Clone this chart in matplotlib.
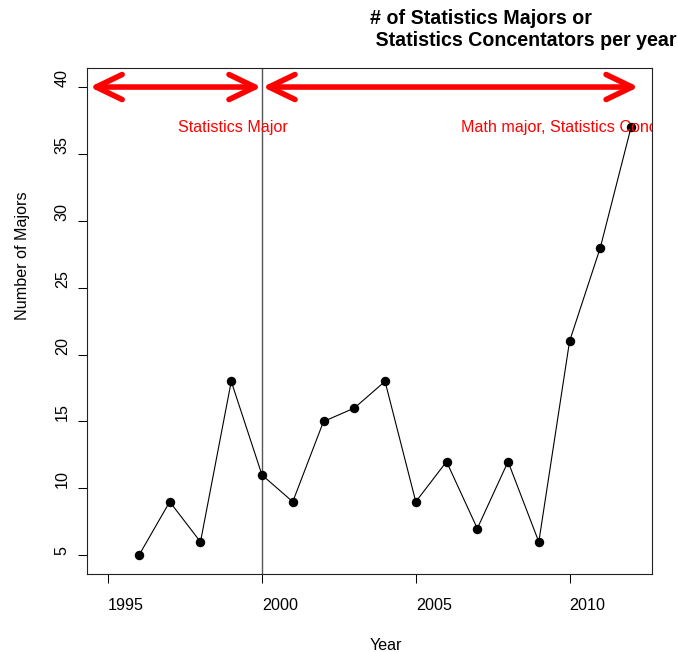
import matplotlib
matplotlib.use("Agg")
import matplotlib.pyplot as plt
from matplotlib.patches import FancyArrowPatch, ArrowStyle

plt.rcParams['font.family'] = ['Liberation Sans', 'DejaVu Sans']

# ---- data ----
years = [1996, 1997, 1998, 1999, 2000, 2001, 2002, 2003, 2004,
         2005, 2006, 2007, 2008, 2009, 2010, 2011, 2012]
majors = [5, 9, 6, 18, 11, 9, 15, 16, 18, 9, 12, 7, 12, 6, 21, 28, 37]
x_ticks = [1995, 2000, 2005, 2010]
y_ticks = [5, 10, 15, 20, 25, 30, 35, 40]
title_lines = ["# of Statistics Majors or", " Statistics Concentators per year"]
label_left = "Statistics Major"
label_right = "Math major, Statistics Concentration"

W, H = 678, 652
fig = plt.figure(figsize=(W / 100, H / 100), dpi=100)
ax = fig.add_axes([87.3 / W, 1 - 574 / H, (652 - 87.3) / W, (574 - 68.3) / H])

ax.set_xlim(1994.32, 2012.68)
ax.set_ylim(3.6, 41.4)

ax.plot(years, majors, color='black', lw=0.8, marker='o', markersize=5.8,
        markerfacecolor='black', markeredgecolor='black', zorder=3)

ax.axvline(2000, color='#555555', lw=1.0, zorder=2)

# arrows
style = ArrowStyle('<->', head_length=18.7, head_width=9.0)
for (x0, x1) in [(1994.40, 1999.98), (2000.02, 2012.24)]:
    arr = FancyArrowPatch((x0, 40), (x1, 40), arrowstyle=style, mutation_scale=1,
                          color='red', lw=4.0, shrinkA=0, shrinkB=0,
                          capstyle='round', joinstyle='round', zorder=4)
    ax.add_patch(arr)

fs = 11.6
ax.text(1997.28, 37, label_left, color='red', fontsize=fs, ha='left', va='center')
ax.text(2006.46, 37, label_right, color='red', fontsize=fs, ha='left', va='center',
        clip_on=True)

# axes styling
for s in ax.spines.values():
    s.set_color('#222222')
    s.set_linewidth(0.8)

ax.set_xticks(x_ticks)
ax.set_xticklabels([str(v) for v in x_ticks], fontsize=fs)
ax.set_yticks(y_ticks)
ax.set_yticklabels([str(v) for v in y_ticks], fontsize=fs)
ax.tick_params(axis='both', direction='out', length=6.5, width=0.75, color='black')
ax.tick_params(axis='x', pad=10.5)
ax.tick_params(axis='y', pad=11.5)
for lbl in ax.get_xticklabels():
    lbl.set_ha('left')
for lbl in ax.get_yticklabels():
    lbl.set_rotation(90)
    lbl.set_ha('center')
    lbl.set_va('bottom')

# axis labels
fig.text(370 / W, 1 - 645 / H, "Year", fontsize=fs, ha='left', va='center')
fig.text(23 / W, 1 - 320 / H, "Number of Majors", fontsize=fs, rotation=90,
         ha='center', va='bottom')

# title
fig.text(370 / W, 1 - 24.5 / H, title_lines[0], fontsize=14.1, fontweight='bold',
         ha='left', va='baseline')
fig.text(370 / W, 1 - 46.5 / H, title_lines[1], fontsize=14.1, fontweight='bold',
         ha='left', va='baseline')

fig.savefig("out.png", dpi=100)
